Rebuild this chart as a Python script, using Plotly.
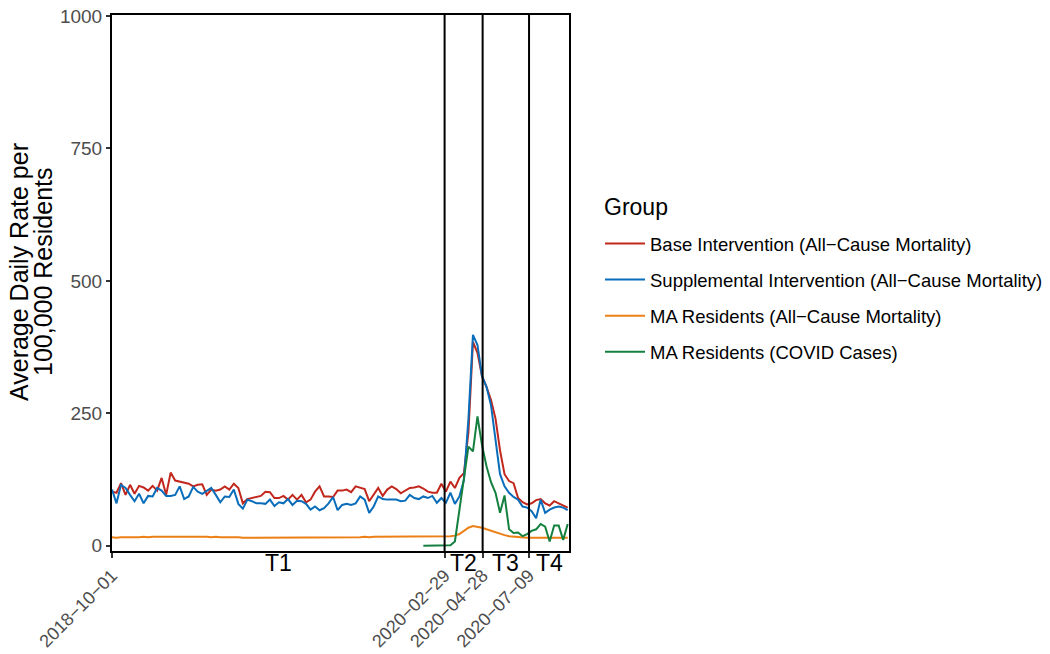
import pandas as pd
import plotly.graph_objects as go

# ---------------- data ----------------
start_date = "2018-10-01"
n_weeks = 102
dates = pd.date_range(start_date, periods=n_weeks, freq="7D")

base_intervention = [
    102, 100, 118, 96, 115, 98, 113, 110, 104, 113, 104, 128, 96, 138, 123, 121, 119, 117, 112, 115,
    116, 96, 106, 104, 106, 112, 106, 117, 109, 80, 88, 90, 91, 94, 102, 101, 90,
    90, 94, 87, 96, 87, 96, 82, 87, 102, 112, 93, 93, 92, 104, 104, 106, 101, 112, 109, 107,
    84, 96, 109, 94, 106, 112, 107, 99, 104, 109, 110, 112,
    108, 102, 100, 100, 117, 102, 121, 109, 128, 137,
    215, 385, 364, 320, 300, 275, 240, 180, 135, 122,
    118, 90, 82, 78, 80, 86, 88, 80, 76, 84,
    80, 76, 72,
]

supplemental_intervention = [
    106, 80, 115, 109, 96, 84, 98, 80, 94, 93, 109, 104, 94, 94, 96, 112, 88, 93, 111, 102,
    98, 104, 109, 96, 82, 93, 92, 106, 79, 70, 87, 84, 80, 80, 79, 87, 75,
    82, 80, 88, 77, 85, 84, 79, 68, 74, 67, 71, 80, 92, 67, 77, 79, 77, 80, 93, 87,
    62, 74, 93, 88, 87, 87, 87, 84, 85, 96, 90, 88,
    93, 90, 94, 81, 90, 81, 100, 79, 93, 124,
    240, 398, 379, 320, 300, 265, 200, 135, 112, 100,
    92, 87, 74, 72, 65, 52, 87, 62, 68, 72,
    74, 72, 67,
]

ma_all_cause = [
    16, 15, 16, 16, 15, 16, 16, 17, 16, 17,
    17, 18, 17, 18, 18, 17, 18, 18, 17, 17,
    17, 17, 16, 17, 16, 16, 17, 16, 16, 15,
    15, 15, 15, 15, 16, 15, 15, 15, 15, 15,
    15, 15, 15, 15, 15, 15, 15, 15, 15, 15,
    15, 16, 16, 16, 16, 16, 17, 16, 17, 17,
    17, 17, 18, 17, 17, 17, 17, 17, 17, 17,
    17, 17, 17, 17, 18, 18, 19, 22, 28, 34,
    37, 36, 34, 31, 28, 25, 22, 20, 18, 17,
    16, 16, 15, 15, 15, 15, 15, 15, 15, 15, 15, 15,
]

covid_first_week = 69
ma_covid_cases = [
    0, 0, 0, 0, 0, 0, 1, 8, 70, 135,
    187, 178, 244, 190, 150, 120, 100, 62, 95, 31,
    24, 25, 18, 22, 28, 31, 41, 36, 8, 38,
    38, 11, 41,
]

period_breaks = ["2020-02-29", "2020-04-28", "2020-07-09"]
period_labels = ["T1", "T2", "T3", "T4"]
x_end = "2020-09-09"
x_tick_vals = [start_date] + period_breaks
y_ticks = [0, 250, 500, 750, 1000]

series_names = [
    "Base Intervention (All\u2212Cause Mortality)",
    "Supplemental Intervention (All\u2212Cause Mortality)",
    "MA Residents (All\u2212Cause Mortality)",
    "MA Residents (COVID Cases)",
]
series_colors = ["#C1271C", "#0A6DBA", "#EC7F16", "#14803F"]
y_title_lines = ["Average Daily Rate per", "100,000 Residents"]
legend_title = "Group"

# ---------------- figure ----------------
FONT = "Liberation Sans, Arial, sans-serif"
OFF = 8                                   # page body margin
W, H = 1050 - OFF, 654 - OFF
PL, PR, PT, PB = 112 - OFF, 569 - OFF, 15 - OFF, 551 - OFF   # plot-area box (figure px)
pw, ph = PR - PL, PB - PT

def px_x(p):            # p given in window pixels
    return (p - OFF - PL) / pw

def px_y(p):
    return (PB - (p - OFF)) / ph

fig = go.Figure()

series = [
    (dates, base_intervention),
    (dates, supplemental_intervention),
    (dates, ma_all_cause),
    (dates[covid_first_week:], ma_covid_cases),
]
for i, ((xs, ys), name, col) in enumerate(zip(series, series_names, series_colors)):
    fig.add_trace(go.Scatter(
        x=xs, y=ys, mode="lines", name=name, legendgroup=f"g{i}",
        line=dict(color=col, width=2),
    ))

# vertical period boundaries
for d in period_breaks:
    fig.add_shape(type="line", xref="x", yref="paper", x0=d, x1=d, y0=0, y1=1,
                  line=dict(color="black", width=2))

# period labels at midpoints
bounds = [pd.Timestamp(start_date)] + [pd.Timestamp(d) for d in period_breaks] + [pd.Timestamp(x_end)]
for lab, a, b in zip(period_labels, bounds[:-1], bounds[1:]):
    mid = a + (b - a) / 2
    fig.add_annotation(x=mid, y=px_y(563), xref="x", yref="paper", text=lab, showarrow=False,
                       yanchor="middle", xanchor="center",
                       font=dict(size=23, color="black", family=FONT))

# y-axis title (two lines, tight line height)
for line_txt, cx in zip(y_title_lines, [19, 43]):
    fig.add_annotation(x=px_x(cx), y=px_y(272), xref="paper", yref="paper",
                       text=line_txt, showarrow=False, textangle=-90,
                       xanchor="center", yanchor="middle",
                       font=dict(size=25, color="black", family=FONT))

# legend title
fig.add_annotation(x=px_x(602), y=px_y(207), xref="paper", yref="paper",
                   text=legend_title, showarrow=False, xanchor="left", yanchor="middle",
                   font=dict(size=23, color="black", family=FONT))

tick_text = [d.replace("-", "\u2212") for d in x_tick_vals]

fig.update_xaxes(
    type="date", range=[start_date, x_end],
    tickvals=x_tick_vals, ticktext=tick_text, tickangle=-45,
    showgrid=False, zeroline=False, automargin=False, ticklabeloverflow="allow",
    showline=True, mirror=True, linecolor="black", linewidth=2,
    ticks="outside", ticklen=5, tickwidth=1.5, tickcolor="#333333",
    tickfont=dict(size=18, color="#4D4D4D", family=FONT),
)
fig.update_yaxes(
    range=[-10, 1002], tickvals=y_ticks,
    showgrid=False, zeroline=False, automargin=False, ticklabeloverflow="allow",
    showline=True, mirror=True, linecolor="black", linewidth=2,
    ticks="outside", ticklen=4, tickwidth=1.5, tickcolor="#333333",
    tickfont=dict(size=19, color="#4D4D4D", family=FONT),
)

fig.update_layout(
    width=W, height=H,
    margin=dict(l=PL, r=W - PR, t=PT, b=H - PB, autoexpand=False),
    paper_bgcolor="white", plot_bgcolor="white",
    font=dict(family=FONT, color="black"),
    showlegend=True,
    legend=dict(
        font=dict(size=18.5, color="black", family=FONT),
        x=px_x(600), y=px_y(225), xanchor="left", yanchor="top",
        tracegroupgap=9, traceorder="grouped", itemwidth=40,
        bgcolor="rgba(0,0,0,0)",
    ),
)

fig.write_html("out.html")
